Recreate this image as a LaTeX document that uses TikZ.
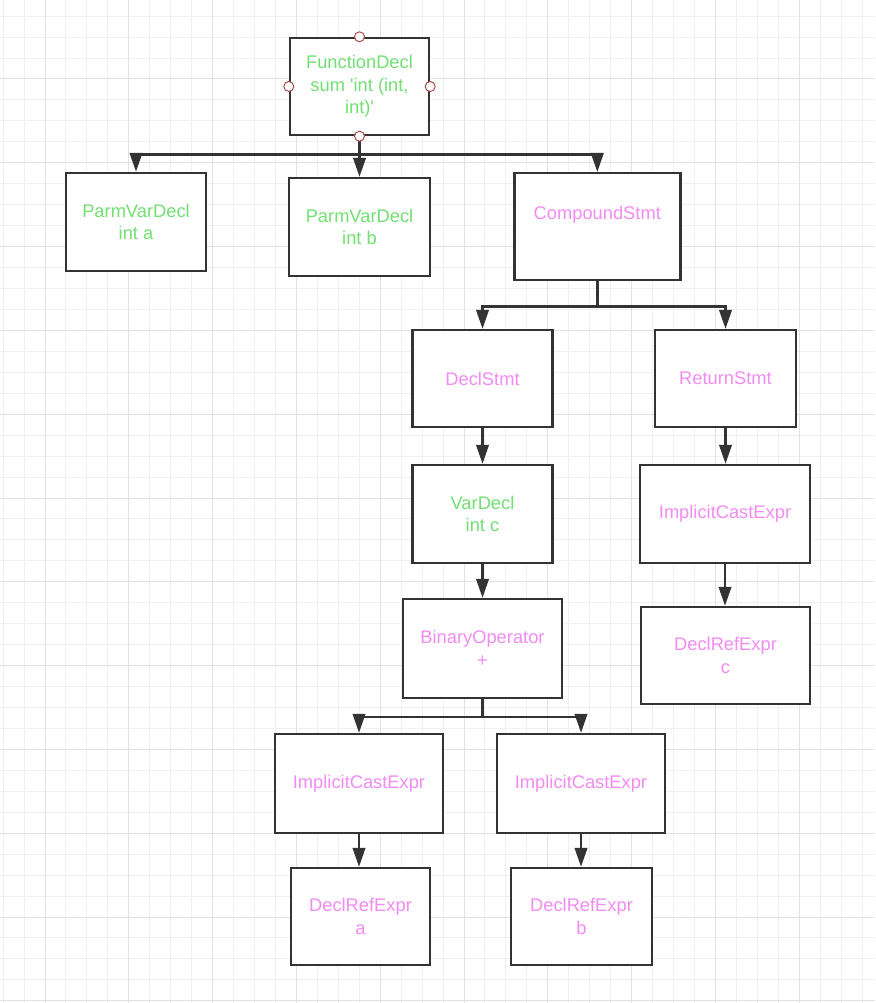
\documentclass[tikz,border=0pt]{standalone}
\usepackage{fontspec}
\setmainfont{Liberation Sans}[Ligatures=TeXOff]
\usetikzlibrary{arrows.meta}
\definecolor{edgec}{HTML}{333333}
\definecolor{greentxt}{HTML}{72E072}
\definecolor{pinktxt}{HTML}{F28CF2}
\definecolor{gridminor}{HTML}{F0F0F0}
\definecolor{gridmajor}{HTML}{E2E2E2}
\definecolor{portc}{HTML}{B04A4A}
\begin{document}
\begin{tikzpicture}[x=1pt,y=-1pt,
  lbl/.style={font=\fontsize{18.3}{22.5}\selectfont,align=center,inner sep=0pt},
  box/.style={lbl,draw=edgec,line width=2.4pt,fill=white},
  gtxt/.style={text=greentxt},
  ptxt/.style={text=pinktxt},
  conn/.style={draw=edgec,line width=2.4pt,-{Triangle[length=19pt,width=12.5pt]}},
  port/.style={circle,draw=portc,fill=white,line width=1pt,minimum size=10pt,inner sep=0pt}]

\useasboundingbox (0,0) rectangle (875,1003);
\fill[white] (0,0) rectangle (875,1003);
\foreach \i in {0,...,41} {\draw[gridminor,line width=1pt] ({3.1+20.95*\i},0) -- ({3.1+20.95*\i},1003);}
\foreach \i in {0,...,47} {\draw[gridminor,line width=1pt] (0,{16.15+20.95*\i}) -- (875,{16.15+20.95*\i});}
\foreach \i in {0,...,9} {\draw[gridmajor,line width=1pt] ({45+83.8*\i},0) -- ({45+83.8*\i},1003);}
\foreach \i in {0,...,11} {\draw[gridmajor,line width=1pt] (0,{79+83.8*\i}) -- (875,{79+83.8*\i});}

\node[box,gtxt,minimum width=139pt,minimum height=97pt] (fd) at (359.5,86.5) {FunctionDecl\\sum 'int (int,\\int)'};
\node[box,gtxt,minimum width=140pt,minimum height=98pt] (pa) at (136,222) {ParmVarDecl\\int a};
\node[box,gtxt,minimum width=141pt,minimum height=98pt] (pb) at (359.5,227) {ParmVarDecl\\int b};
\node[box,minimum width=166pt,minimum height=107pt] (cs) at (597.3,226.7) {};
\node[lbl,ptxt] (cst) at (597.3,215) {CompoundStmt};
\node[box,ptxt,minimum width=140pt,minimum height=97pt] (ds) at (482.5,378.5) {DeclStmt};
\node[box,ptxt,minimum width=141pt,minimum height=97pt] (rs) at (725.5,378.5) {ReturnStmt};
\node[box,gtxt,minimum width=140pt,minimum height=98pt] (vd) at (482.5,514) {VarDecl\\int c};
\node[box,ptxt,minimum width=170pt,minimum height=98pt] (icr) at (725,514) {ImplicitCastExpr};
\node[box,ptxt,minimum width=159pt,minimum height=99pt] (bo) at (482.5,648.5) {BinaryOperator\\+};
\node[box,ptxt,minimum width=169pt,minimum height=97pt] (drc) at (725.5,655.5) {DeclRefExpr\\c};
\node[box,ptxt,minimum width=168pt,minimum height=99pt] (ic1) at (359,783.5) {ImplicitCastExpr};
\node[box,ptxt,minimum width=168pt,minimum height=99pt] (ic2) at (581,783.5) {ImplicitCastExpr};
\node[box,ptxt,minimum width=139pt,minimum height=97pt] (dra) at (360.5,916.5) {DeclRefExpr\\a};
\node[box,ptxt,minimum width=141pt,minimum height=97pt] (drb) at (581.5,916.5) {DeclRefExpr\\b};

\draw[conn] (fd.south) -- ++(0,18.5) -| (pa.north);
\draw[conn] (fd.south) -- (pb.north);
\draw[conn] (fd.south) -- ++(0,18.5) -| (cs.north);
\draw[conn] (cs.south) -- ++(0,25) -| (ds.north);
\draw[conn] (cs.south) -- ++(0,25) -| (rs.north);
\draw[conn] (ds.south) -- (vd.north);
\draw[conn] (vd.south) -- (bo.north);
\draw[conn] (rs.south) -- (rs.south |- icr.north);
\draw[conn] (icr.south) -- (icr.south |- drc.north);
\draw[conn] (bo.south) -- ++(0,18) -| (ic1.north);
\draw[conn] (bo.south) -- ++(0,18) -| (ic2.north);
\draw[conn] (ic1.south) -- (ic1.south |- dra.north);
\draw[conn] (ic2.south) -- (ic2.south |- drb.north);

\node[port] (pn) at (fd.north) {};
\node[port] (pw) at (fd.west) {};
\node[port] (pe) at (fd.east) {};
\node[port] (ps) at (fd.south) {};
\end{tikzpicture}
\end{document}
